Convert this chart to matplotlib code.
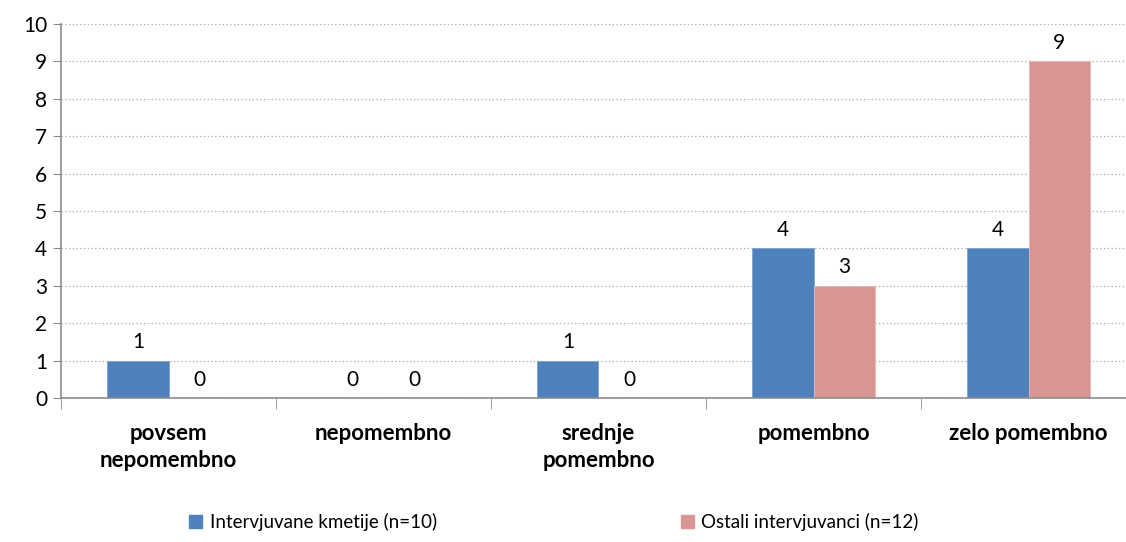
import numpy as np
import matplotlib.pyplot as plt

plt.rcParams['font.family'] = ['Lato', 'DejaVu Sans']

# PODATKI
categories = ["povsem\nnepomembno", "nepomembno", "srednje\npomembno", "pomembno", "zelo pomembno"]
kmetije = [1, 0, 1, 4, 4]
ostali = [0, 0, 0, 3, 9]
series_names = ["Intervjuvane kmetije (n=10)", "Ostali intervjuvanci (n=12)"]

blue = "#4f81bd"
pink = "#d99594"
grey = "#8c8c8c"

fig = plt.figure(figsize=(11.26, 5.42), dpi=100)
ax = fig.add_axes([61 / 1126, 1 - 398 / 542, 1075 / 1126, 374 / 542])

x = np.arange(len(categories))
w = 0.285
b1 = ax.bar(x - w / 2, kmetije, w, color=blue, edgecolor="#7fa3cf", linewidth=0.6, label=series_names[0])
b2 = ax.bar(x + w / 2, ostali, w, color=pink, edgecolor="#e6b8b7", linewidth=0.6, label=series_names[1])

for bars in (b1, b2):
    for r in bars:
        ax.annotate(f"{int(r.get_height())}", (r.get_x() + r.get_width() / 2, r.get_height()),
                    xytext=(0, 6), textcoords="offset points", ha="center", va="bottom", fontsize=15)

ax.set_xlim(-0.5, len(categories) - 0.5)
ax.set_ylim(0, 10)
ax.set_yticks(range(0, 11))
ax.tick_params(axis="y", labelsize=15, length=6, color=grey, pad=4)

ax.set_xticks(x)
ax.set_xticklabels(categories, fontsize=16, fontweight="bold", linespacing=1.35)
ax.tick_params(axis="x", length=0, pad=18)
ax.set_xticks(np.arange(len(categories) + 1) - 0.5, minor=True)
ax.tick_params(axis="x", which="minor", length=8, color=grey)

ax.grid(axis="y", linestyle=(0, (1, 2)), color="#a6a6a6", linewidth=0.9)
ax.set_axisbelow(True)
for s in ("top", "right"):
    ax.spines[s].set_visible(False)
for s in ("left", "bottom"):
    ax.spines[s].set_color(grey)
    ax.spines[s].set_linewidth(1.2)

handles = [plt.Rectangle((0, 0), 1, 1, color=blue), plt.Rectangle((0, 0), 1, 1, color=pink)]
fig.legend(handles, series_names, loc="center", bbox_to_anchor=(554 / 1126, 1 - 522 / 542), ncol=2,
           frameon=False, fontsize=13.5, handlelength=0.7, handleheight=0.7, handletextpad=0.4,
           columnspacing=13, borderpad=0)

fig.savefig("out.png", dpi=100)
